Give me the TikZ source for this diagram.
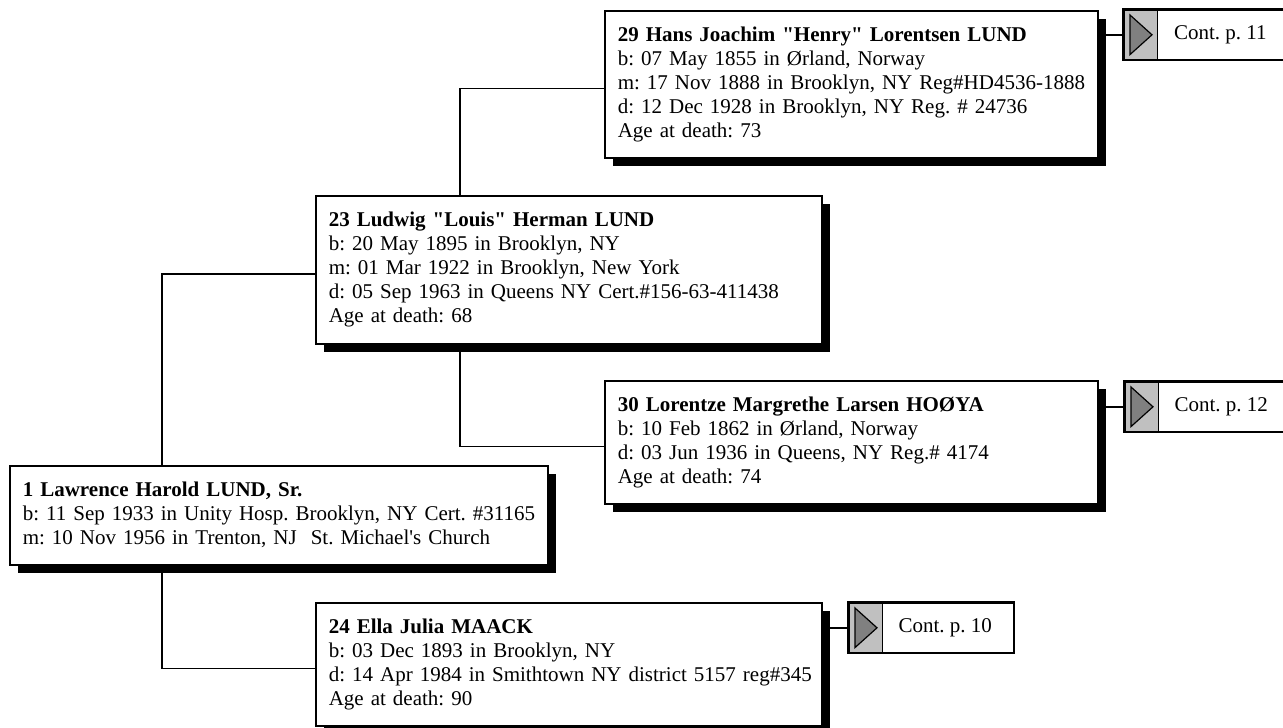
\documentclass[tikz,border=0pt]{standalone}
\usepackage{fontspec}
\setmainfont{Liberation Serif}[Ligatures=TeXOff]
\usetikzlibrary{backgrounds}
\definecolor{contgrey}{HTML}{C0C0C0}
\definecolor{trigrey}{HTML}{808080}
\frenchspacing
\newcommand{\oneline}[1]{\mbox{#1}}
\begin{document}
\begin{tikzpicture}[x=1pt,y=-1pt,
  person/.style={draw=black, line width=1.6pt, fill=white, anchor=north west,
    inner xsep=13pt, inner ysep=0pt, align=left,
    font=\fontsize{21}{24}\selectfont\frenchspacing,
    preaction={fill=black, transform canvas={shift={(8pt,-8pt)}}}},
  contbox/.style={draw=black, line width=1.6pt, fill=white, anchor=north west,
    minimum width=165pt, minimum height=50pt, inner sep=0pt,
    font=\fontsize{21}{24}\selectfont\frenchspacing},
  conn/.style={draw=black, line width=1.6pt},
  greybox/.style={fill=contgrey, draw=black, line width=1pt},
  tri/.style={fill=trigrey, draw=black, line width=1.2pt, line join=miter}
]
\useasboundingbox (0,0) rectangle (1283,728);
\clip (0,0) rectangle (1283,728);

\coordinate (x1) at (162,0);
\coordinate (x2) at (460,0);

% persons
\node[person, text width=467pt, minimum height=147pt] (b29) at (604,10)
 {\textbf{29 Hans Joachim "Henry" Lorentsen LUND}\\
  b: 07 May 1855 in Ørland, Norway\\
  \oneline{m: 17 Nov 1888 in Brooklyn, NY Reg\#HD4536-1888}\\
  d: 12 Dec 1928 in Brooklyn, NY Reg. \# 24736\\
  Age at death: 73};

\node[person, text width=480pt, minimum height=148pt] (b23) at (315,195)
 {\textbf{23 Ludwig "Louis" Herman LUND}\\
  b: 20 May 1895 in Brooklyn, NY\\
  m: 01 Mar 1922 in Brooklyn, New York\\
  \oneline{d: 05 Sep 1963 in Queens NY Cert.\#156-63-411438}\\
  Age at death: 68};

\node[person, text width=467pt, minimum height=123pt] (b30) at (604,380)
 {\textbf{30 Lorentze Margrethe Larsen HOØYA}\\
  b: 10 Feb 1862 in Ørland, Norway\\
  d: 03 Jun 1936 in Queens, NY Reg.\# 4174\\
  Age at death: 74};

\node[person, text width=512pt, minimum height=99pt] (b1) at (9,465)
 {\textbf{1 Lawrence Harold LUND, Sr.}\\
  \oneline{b: 11 Sep 1933 in Unity Hosp. Brooklyn, NY Cert. \#31165}\\
  m: 10 Nov 1956 in Trenton, NJ\ \ St. Michael's Church};

\node[person, text width=480pt, minimum height=123pt] (b24) at (315,602)
 {\textbf{24 Ella Julia MAACK}\\
  b: 03 Dec 1893 in Brooklyn, NY\\
  \oneline{d: 14 Apr 1984 in Smithtown NY district 5157 reg\#345}\\
  Age at death: 90};

% continuation boxes
\node[contbox] (c11) at (1123,9) {\hspace*{28pt}Cont. p. 11};
\node[contbox] (c12) at (1124,381) {\hspace*{28pt}Cont. p. 12};
\node[contbox] (c10) at (848,602) {\hspace*{28pt}Cont. p. 10};

\foreach \c in {c11,c12,c10}{
  \draw[greybox] ([shift={(1.5,1.5)}]\c.north west) rectangle ([shift={(34,-1.5)}]\c.south west);
  \draw[tri] ([shift={(7,6)}]\c.north west) -- ([shift={(7,-6)}]\c.south west)
     -- ([shift={(29,0)}]\c.west) -- cycle;
  \draw[line width=1.6pt] (\c.north west) rectangle (\c.south east);
}

% connectors
\begin{pgfonlayer}{background}
\draw[conn] (b1.north -| x1) |- ([shift={(0,4)}]b23.west);
\draw[conn] (b1.south -| x1) |- ([shift={(0,4)}]b24.west);
\draw[conn] (b23.north -| x2) |- ([shift={(0,4)}]b29.west);
\draw[conn] (b23.south -| x2) |- ([shift={(0,4)}]b30.west);
\draw[conn] (b29.east |- c11.west) -- (c11.west);
\draw[conn] (b30.east |- c12.west) -- (c12.west);
\draw[conn] (b24.east |- c10.west) -- (c10.west);
\end{pgfonlayer}
\end{tikzpicture}
\end{document}
